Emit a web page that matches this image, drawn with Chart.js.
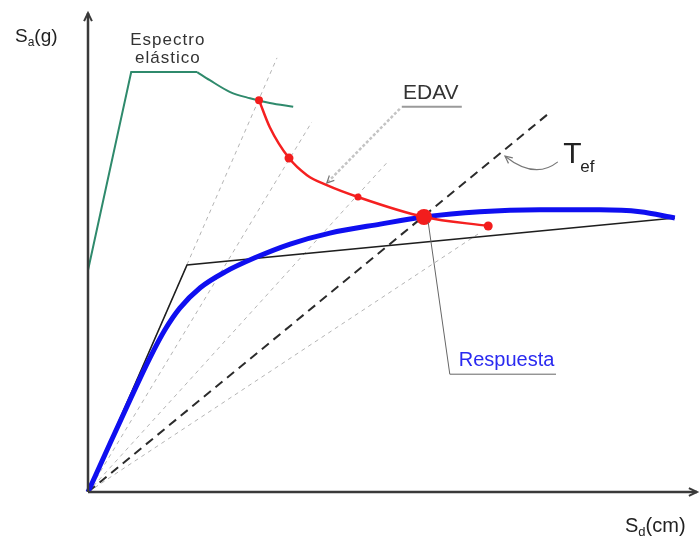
<!DOCTYPE html>
<html>
<head>
<meta charset="utf-8">
<script src="https://cdn.jsdelivr.net/npm/chart.js@4/dist/chart.umd.min.js"></script>
<style>
  html, body { margin: 0; padding: 0; background: #fff; }
  canvas { display: block; }
</style>
</head>
<body>
<canvas id="chart" width="700" height="541"></canvas>
<script>
const espectroRecto = [[0, 46.7], [7.2, 88.4], [18.2, 88.4]];
const espectroCurva = [[18.2, 88.4], [20.3, 86.7], [23.7, 84.2], [27, 82.9], [30.3, 81.9], [34.2, 81.1]];
const edavCurva = [[28.5, 82.5], [30.3, 76.8], [33.5, 70.3], [36.5, 66.7], [39.8, 64.6], [45, 62.1], [56, 57.9], [66.7, 56]];
const edavPuntos = [[28.5, 82.5], [33.5, 70.3], [45, 62.1], [56, 57.9], [66.7, 56]];
const edavRadios = [4, 4.5, 3.5, 8, 4.5];
const capacidad = [[0, 0], [3.7, 10.3], [7, 19.4], [10.3, 28.2], [12.8, 34.1], [15.3, 38.7], [18.7, 43], [22.8, 46.3], [27.8, 49.3], [33.7, 52.2], [40.3, 54.5], [48.7, 56.4], [56, 57.9], [65.3, 59], [75.3, 59.4], [85.3, 59.4], [92, 59], [97.8, 57.7]];
const bilineal = [[0, 0], [16.5, 47.8], [97.8, 57.7]];
const periodoEf = [[0, 0], [76.5, 79.4]];
const radiales = [[31.5, 91.4], [37.3, 77.9], [49.8, 69.3], [65, 54.3]];

const toXY = (arr) => arr.map(([x, y]) => ({ x, y }));
const FONT = '"Liberation Sans", Arial, sans-serif';

const radialSets = radiales.map((end, i) => ({
  label: 'T' + i,
  data: toXY([[0, 0], end]),
  showLine: true,
  borderColor: '#b4b4b4',
  borderWidth: 1,
  borderDash: [4, 4],
  pointRadius: 0,
  order: 6,
}));

function arrowHead(ctx, x, y, ang, size) {
  ctx.beginPath();
  ctx.moveTo(x + size * Math.cos(ang + 0.45), y + size * Math.sin(ang + 0.45));
  ctx.lineTo(x, y);
  ctx.lineTo(x + size * Math.cos(ang - 0.45), y + size * Math.sin(ang - 0.45));
  ctx.stroke();
}

const labels = {
  id: 'labels',
  afterDraw(chart) {
    const ctx = chart.ctx;
    const sx = chart.scales.x, sy = chart.scales.y;
    const P = (x, y) => [sx.getPixelForValue(x), sy.getPixelForValue(y)];
    const area = chart.chartArea;
    ctx.save();

    // axes with arrows
    ctx.strokeStyle = '#3a3a3a';
    ctx.lineWidth = 2.5;
    ctx.beginPath();
    ctx.moveTo(area.left, area.bottom);
    ctx.lineTo(area.left, 13);
    ctx.moveTo(area.left, area.bottom);
    ctx.lineTo(697, area.bottom);
    ctx.stroke();
    ctx.lineWidth = 2;
    arrowHead(ctx, area.left, 13, Math.PI / 2, 9);
    arrowHead(ctx, 697, area.bottom, Math.PI, 9);

    // axis titles with subscripts
    ctx.fillStyle = '#222';
    ctx.textBaseline = 'alphabetic';
    ctx.textAlign = 'left';
    function sub(x, y, main, s, rest, big, small) {
      ctx.font = big + 'px ' + FONT;
      ctx.fillText(main, x, y);
      x += ctx.measureText(main).width;
      ctx.font = small + 'px ' + FONT;
      ctx.fillText(s, x, y + 4);
      x += ctx.measureText(s).width;
      ctx.font = big + 'px ' + FONT;
      ctx.fillText(rest, x, y);
    }
    sub(15, 42, 'S', 'a', '(g)', 19, 12);
    sub(625, 532, 'S', 'd', '(cm)', 20, 13);

    // Espectro elástico
    ctx.fillStyle = '#333';
    ctx.textAlign = 'center';
    ctx.font = '17px ' + FONT;
    ctx.letterSpacing = '1px';
    let [ex, ey] = P(13.3, 94.1);
    ctx.fillText('Espectro', ex, ey);
    ctx.fillText('elástico', ex, ey + 18);
    ctx.letterSpacing = '0px';

    // EDAV label, underline and leader
    ctx.textAlign = 'left';
    ctx.font = '21px ' + FONT;
    let [dx, dy] = P(52.5, 82.7);
    ctx.fillText('EDAV', dx, dy);
    ctx.strokeStyle = '#9a9a9a';
    ctx.lineWidth = 2;
    let [u1x, uy] = P(52.3, 81.1);
    let [u2x] = P(62.3, 81.1);
    ctx.beginPath();
    ctx.moveTo(u1x, uy);
    ctx.lineTo(u2x, uy);
    ctx.stroke();
    let [lx, ly] = P(39.8, 65.05);
    ctx.strokeStyle = '#c4c4c4';
    ctx.lineWidth = 2.5;
    ctx.setLineDash([3, 2]);
    ctx.beginPath();
    ctx.moveTo(u1x - 2, uy + 2);
    ctx.lineTo(lx, ly);
    ctx.stroke();
    ctx.setLineDash([]);
    ctx.strokeStyle = '#777';
    ctx.lineWidth = 1.2;
    arrowHead(ctx, lx, ly, Math.atan2(uy - ly, u1x - lx), 8);

    // T_ef label with curved arrow
    ctx.fillStyle = '#222';
    let [tx, ty] = P(79.2, 69.3);
    ctx.font = '30px ' + FONT;
    ctx.fillText('T', tx, ty);
    ctx.font = '17px ' + FONT;
    ctx.fillText('ef', tx + 17, ty + 9);
    let [a0x, a0y] = P(78.3, 69.5);
    let [acx, acy] = P(74.5, 65.7);
    let [a1x, a1y] = P(69.5, 70.7);
    ctx.strokeStyle = '#777';
    ctx.lineWidth = 1.2;
    ctx.beginPath();
    ctx.moveTo(a0x, a0y);
    ctx.quadraticCurveTo(acx, acy, a1x, a1y);
    ctx.stroke();
    arrowHead(ctx, a1x, a1y, Math.atan2(acy - a1y, acx - a1x), 8);

    // Respuesta label with leader to performance point
    let [rx, ry] = P(61.8, 26.5);
    ctx.fillStyle = '#2a2af0';
    ctx.font = '20px ' + FONT;
    ctx.fillText('Respuesta', rx, ry);
    let [r1x, r2y] = P(60.3, 24.8);
    let [r2x] = P(78, 24.8);
    let [px, py] = P(56.7, 56.8);
    ctx.strokeStyle = '#666';
    ctx.lineWidth = 1;
    ctx.beginPath();
    ctx.moveTo(px, py);
    ctx.lineTo(r1x, r2y);
    ctx.lineTo(r2x, r2y);
    ctx.stroke();

    ctx.restore();
  },
};

new Chart(document.getElementById('chart'), {
  type: 'scatter',
  data: {
    datasets: [
      {
        label: 'EDAV puntos',
        data: toXY(edavPuntos),
        pointRadius: edavRadios,
        pointBackgroundColor: '#f21d1d',
        pointBorderWidth: 0,
        order: 0,
      },
      {
        label: 'EDAV',
        data: toXY(edavCurva),
        showLine: true,
        borderColor: '#f52020',
        borderWidth: 2.5,
        cubicInterpolationMode: 'monotone',
        pointRadius: 0,
        order: 1,
      },
      {
        label: 'Capacidad',
        data: toXY(capacidad),
        showLine: true,
        borderColor: '#0f0ff0',
        borderWidth: 5,
        cubicInterpolationMode: 'monotone',
        pointRadius: 0,
        order: 2,
      },
      {
        label: 'Bilineal',
        data: toXY(bilineal),
        showLine: true,
        borderColor: '#1e1e1e',
        borderWidth: 1.6,
        pointRadius: 0,
        order: 3,
      },
      {
        label: 'Espectro',
        data: toXY(espectroRecto),
        showLine: true,
        borderColor: '#2f8a6c',
        borderWidth: 2,
        pointRadius: 0,
        order: 4,
      },
      {
        label: 'Espectro curva',
        data: toXY(espectroCurva),
        showLine: true,
        borderColor: '#2f8a6c',
        borderWidth: 2,
        cubicInterpolationMode: 'monotone',
        pointRadius: 0,
        order: 4,
      },
      {
        label: 'Tef',
        data: toXY(periodoEf),
        showLine: true,
        borderColor: '#2b2b2b',
        borderWidth: 2,
        borderDash: [9, 6],
        pointRadius: 0,
        order: 5,
      },
      ...radialSets,
    ],
  },
  options: {
    responsive: false,
    animation: false,
    clip: false,
    layout: { padding: { left: 88, right: 12, top: 17, bottom: 49 } },
    scales: {
      x: { type: 'linear', min: 0, max: 100, display: false },
      y: { type: 'linear', min: 0, max: 100, display: false },
    },
    plugins: { legend: { display: false }, tooltip: { enabled: false } },
  },
  plugins: [labels],
});
</script>
</body>
</html>
